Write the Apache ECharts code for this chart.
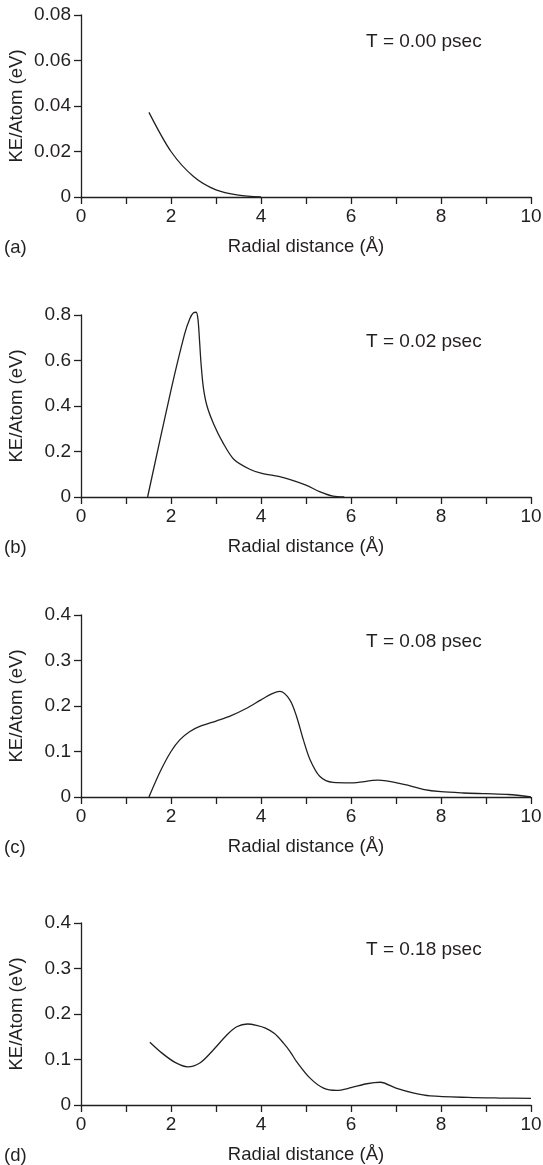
<!DOCTYPE html>
<html>
<head>
<meta charset="utf-8">
<script src="https://cdn.jsdelivr.net/npm/echarts@6/dist/echarts.min.js"></script>
<style>
html,body{margin:0;padding:0;background:#fff;}
#main{width:543px;height:1165px;}
</style>
</head>
<body>
<div id="main"></div>
<script>
// ---- data ----
const panelLabels = ['(a)', '(b)', '(c)', '(d)'];
const timeLabels = ['T = 0.00 psec', 'T = 0.02 psec', 'T = 0.08 psec', 'T = 0.18 psec'];
const xTicks = [0, 2, 4, 6, 8, 10];
const yMaxes = [0.08, 0.8, 0.4, 0.4];
const yIntervals = [0.02, 0.2, 0.1, 0.1];

const distA = [1.51, 2.0, 2.5, 3.0, 3.5, 4.0];
const keA   = [0.0372, 0.0200, 0.0090, 0.0031, 0.0008, 0.0];

const distB = [1.48, 2.0, 2.3, 2.42, 2.5, 2.56, 2.6, 2.63, 2.67, 2.72, 2.8, 2.95, 3.15, 3.4, 3.75, 4.0, 4.5, 5.0, 5.3, 5.6, 5.85];
const keB   = [0.0, 0.47, 0.715, 0.785, 0.81, 0.812, 0.78, 0.70, 0.58, 0.48, 0.40, 0.32, 0.24, 0.165, 0.122, 0.105, 0.085, 0.052, 0.024, 0.004, 0.0];

const distC = [1.51, 1.76, 2.0, 2.2, 2.42, 2.64, 3.0, 3.3, 3.68, 4.0, 4.25, 4.42, 4.64, 4.79, 4.94, 5.09, 5.31, 5.6, 6.0, 6.6, 7.2, 7.6, 8.0, 8.5, 9.0, 9.5, 10.0];
const keC   = [0.0, 0.056, 0.100, 0.126, 0.144, 0.155, 0.167, 0.177, 0.195, 0.2135, 0.227, 0.232, 0.2135, 0.177, 0.126, 0.082, 0.045, 0.032, 0.031, 0.037, 0.027, 0.017, 0.0116, 0.0088, 0.0072, 0.0055, 0.0];

const distD = [1.53, 1.8, 2.1, 2.37, 2.65, 2.94, 3.24, 3.46, 3.7, 3.9, 4.1, 4.3, 4.5, 4.65, 4.79, 5.09, 5.39, 5.68, 6.0, 6.35, 6.65, 7.0, 7.4, 7.76, 8.6, 9.3, 10.0];
const keD   = [0.138, 0.114, 0.093, 0.084, 0.093, 0.121, 0.154, 0.172, 0.178, 0.175, 0.169, 0.157, 0.136, 0.117, 0.0955, 0.059, 0.037, 0.032, 0.038, 0.0467, 0.050, 0.037, 0.026, 0.020, 0.0166, 0.0153, 0.0145];

const dists = [distA, distB, distC, distD];
const kes = [keA, keB, keC, keD];

// ---- layout ----
const FONT = '"Liberation Sans", Arial, Helvetica, sans-serif';
const INK = '#231f20';
const gridTops = [15, 315, 615, 923];
const gridH = 182;
const gridLeft = 81, gridW = 450;

const chart = echarts.init(document.getElementById('main'), null, {renderer: 'canvas'});

const grids = [], xAxes = [], yAxes = [], series = [], graphics = [];
for (let i = 0; i < 4; i++) {
  grids.push({left: gridLeft, width: gridW, top: gridTops[i], height: gridH, containLabel: false, outerBoundsMode: 'none'});
  xAxes.push({
    type: 'value', gridIndex: i, min: 0, max: 10, interval: 1,
    name: 'Radial distance (Å)', nameLocation: 'middle', nameGap: 40, nameMoveOverlap: false,
    nameTextStyle: {fontFamily: FONT, fontSize: 18.5, color: INK},
    axisLine: {show: true, onZero: false, lineStyle: {color: INK, width: 1.3}},
    axisTick: {show: true, inside: false, length: 7, lineStyle: {color: INK, width: 1.3}},
    axisLabel: {
      fontFamily: FONT, fontSize: 19, color: INK, margin: 10,
      formatter: v => xTicks.indexOf(v) >= 0 ? String(v) : ''
    },
    splitLine: {show: false}
  });
  const yi = yIntervals[i];
  yAxes.push({
    type: 'value', gridIndex: i, min: 0, max: yMaxes[i], interval: yi,
    name: 'KE/Atom (eV)', nameLocation: 'middle', nameGap: 55, nameMoveOverlap: false,
    nameTextStyle: {fontFamily: FONT, fontSize: 18.5, color: INK},
    axisLine: {show: true, onZero: false, lineStyle: {color: INK, width: 1.3}},
    axisTick: {show: true, inside: false, length: 7, lineStyle: {color: INK, width: 1.3}},
    axisLabel: {
      fontFamily: FONT, fontSize: 19, color: INK, margin: 10,
      formatter: v => v === 0 ? '0' : v.toFixed(i === 0 ? 2 : 1)
    },
    splitLine: {show: false}
  });
  series.push({
    type: 'line', xAxisIndex: i, yAxisIndex: i,
    data: dists[i].map((x, k) => [x, kes[i][k]]),
    showSymbol: false, smooth: 0.3, clip: false,
    lineStyle: {color: INK, width: 1.3},
    silent: true, animation: false
  });
  graphics.push({
    type: 'text', x: 366, y: gridTops[i] + 27,
    style: {text: timeLabels[i], font: '19px ' + FONT, fill: INK, verticalAlign: 'middle', align: 'left'}
  });
  graphics.push({
    type: 'text', x: 4, y: gridTops[i] + gridH + 51,
    style: {text: panelLabels[i], font: '18.5px ' + FONT, fill: INK, verticalAlign: 'middle', align: 'left'}
  });
}

chart.setOption({
  animation: false,
  backgroundColor: '#ffffff',
  grid: grids,
  xAxis: xAxes,
  yAxis: yAxes,
  series: series,
  graphic: graphics
});
</script>
</body>
</html>
